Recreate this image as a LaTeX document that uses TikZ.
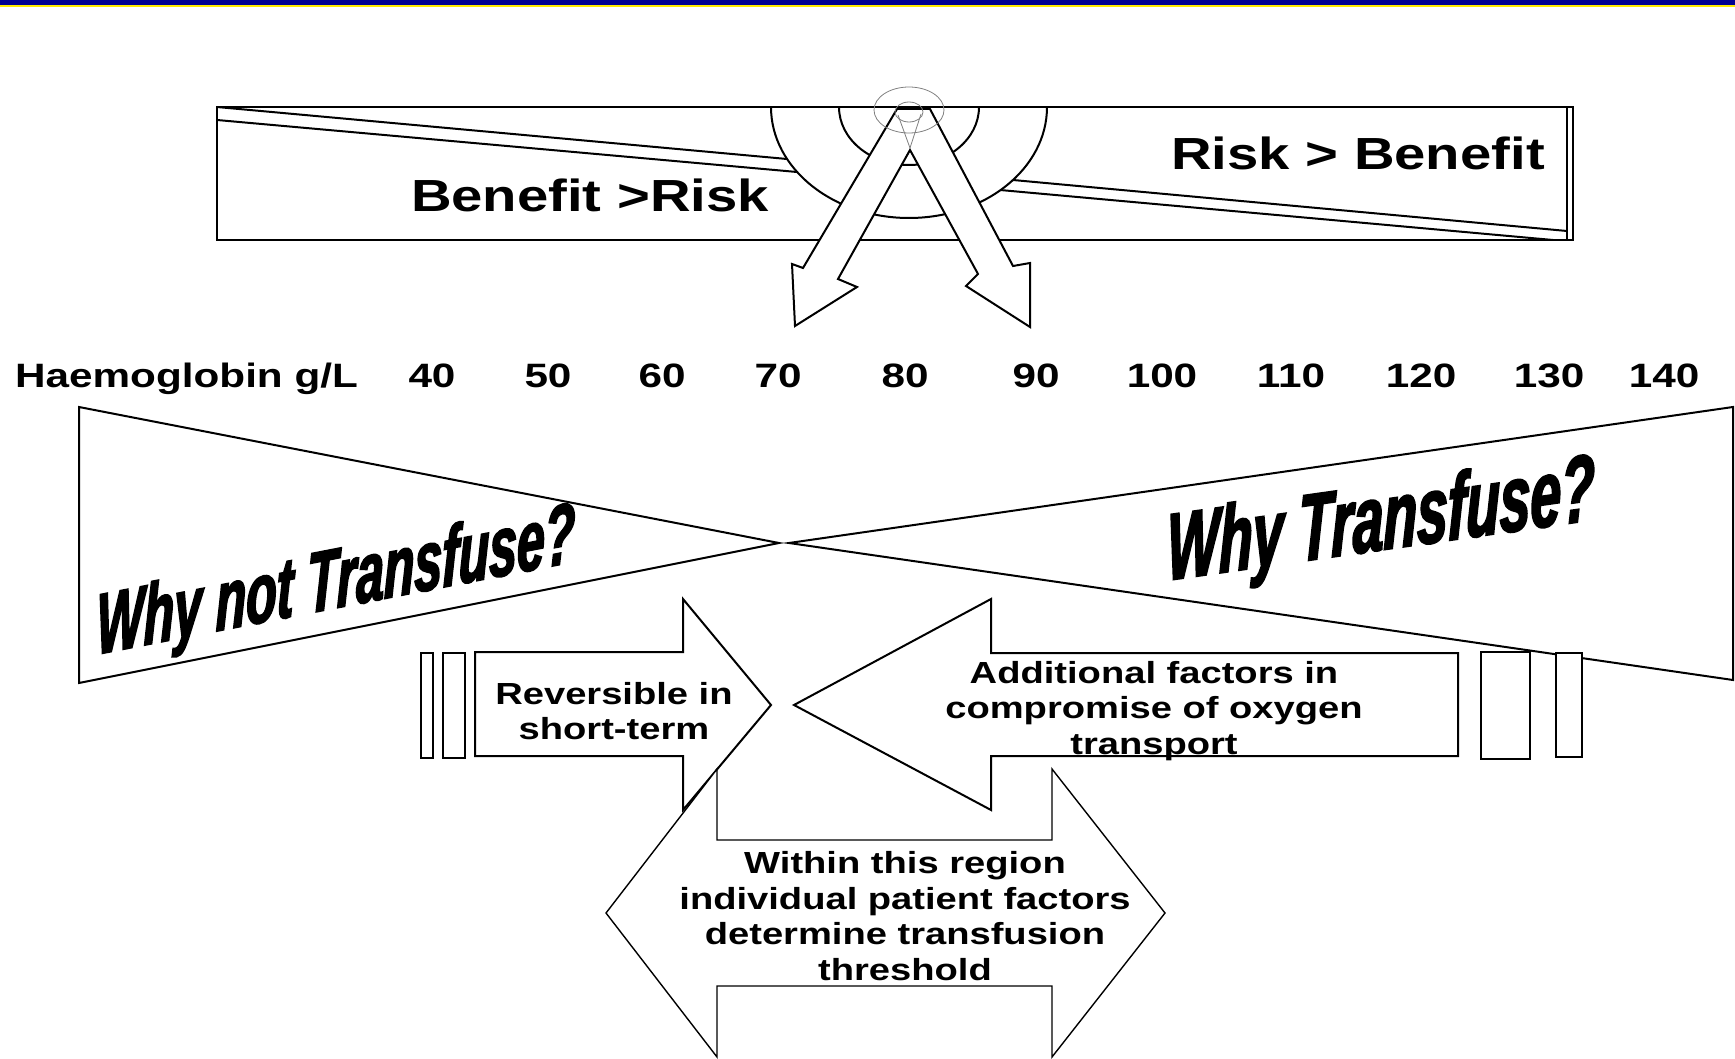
\documentclass[tikz,border=0pt]{standalone}
\usepackage{fontspec}
\newfontfamily\widefont[FakeStretch=1.25, Ligatures=NoCommon]{Liberation Sans}
\newfontfamily\narrowfont[FakeStretch=0.58, FakeBold=2]{Liberation Sans}
\usepackage{tikz}
\usetikzlibrary{positioning, calc}
\definecolor{barblue}{RGB}{0,0,145}
\definecolor{baryellow}{RGB}{255,235,0}

\begin{document}
\begin{tikzpicture}[x=1pt, y=-1pt]
\tikzstyle{outline}=[draw=black, line width=2pt, line join=miter]
\tikzstyle{blockarrow}=[draw=black, line width=2pt, fill=white, line join=miter]
\tikzstyle{thinring}=[draw=gray, line width=0.8pt]
\tikzstyle{endbar}=[draw=black, line width=1.6pt, fill=white]
\tikzstyle{scalelabel}=[font=\widefont\bfseries\fontsize{33.8}{40}\selectfont, anchor=base, inner sep=0pt]
\tikzstyle{balancelabel}=[font=\widefont\bfseries\fontsize{45}{54}\selectfont, anchor=base, inner sep=0pt]
\tikzstyle{arrowtext}=[font=\widefont\bfseries\fontsize{30.5}{35.4}\selectfont, align=center, inner sep=0pt]
\tikzstyle{question}=[anchor=base, inner sep=0pt, transform shape]

\useasboundingbox (0,0) rectangle (1735,1059);

% title rule
\fill[barblue] (0,0) rectangle (1735,5);
\fill[baryellow] (0,5) rectangle (1735,7);

% balance beam
\draw[outline, line width=2.5pt] (217,107) rectangle (1573,240);
\draw[outline] (1567,107) -- (1567,240);
\draw[outline] (217,107) -- (787,159);
\draw[outline] (1013,180) -- (1567,231);
\draw[outline] (217,120) -- (797,172);
\draw[outline] (1000,190) -- (1553,240);
\begin{scope}
  \clip (217,107) rectangle (1573,240);
  \draw[outline] (909,107) ellipse [x radius=138, y radius=111];
  \draw[outline] (909,107) ellipse [x radius=70, y radius=58];
\end{scope}

% pivot legs
\draw[blockarrow] (897,109) -- (803,268) -- (792,264) -- (795,326) -- (857,287)
  -- (838,279) -- (910,150) -- (978,274) -- (966,286) -- (1030,327)
  -- (1030,263) -- (1013,266) -- (930,109) -- cycle;
\draw[thinring] (909,110) ellipse [x radius=35, y radius=23];
\draw[thinring] (909,112) ellipse [x radius=14, y radius=10];
\draw[thinring] (898,115) -- (910,148) -- (921,114);

\node (benefit) [balancelabel] at (590,212) {Benefit >Risk};
\node (risk) [balancelabel] at (1358,170) {Risk > Benefit};

% haemoglobin scale
\node (hb) [scalelabel, anchor=base west] at (15,387) {Haemoglobin g/L};
\foreach \val/\xpos in {40/432, 50/548, 60/662, 70/778, 80/905, 90/1036,
    100/1162, 110/1291, 120/1421, 130/1549, 140/1664}
  \node (hb\val) [scalelabel] at (\xpos,387) {\val};

% bow tie
\draw[outline] (79,407) -- (779,543) -- (79,683) -- cycle;
\draw[outline] (1733,407) -- (789,543) -- (1733,680) -- cycle;

\node (whynot) [question, yslant=0.194,
  font=\narrowfont\bfseries\itshape\fontsize{86}{90}\selectfont] at (336,608) {Why not Transfuse?};
\node (why) [question, yslant=0.142,
  font=\narrowfont\bfseries\itshape\fontsize{95}{98}\selectfont] at (1381,550) {Why Transfuse?};

% end bars
\draw[endbar, line width=2.5pt] (421,653) rectangle (433,758);
\draw[endbar] (443,653) rectangle (465,758);
\draw[endbar, line width=2.5pt] (1481,652) rectangle (1530,759);
\draw[endbar] (1556,653) rectangle (1582,757);

% block arrows
\draw[blockarrow] (475,652) -- (683,652) -- (683,599) -- (771,705) -- (683,810)
  -- (683,756) -- (475,756) -- cycle;
\draw[blockarrow] (794,705) -- (991,599) -- (991,653) -- (1458,653) -- (1458,756)
  -- (991,756) -- (991,810) -- cycle;
\draw[blockarrow, line width=1.4pt] (606,913) -- (717,769) -- (717,840) -- (1052,840)
  -- (1052,769) -- (1165,913) -- (1052,1057) -- (1052,986) -- (717,986)
  -- (717,1057) -- cycle;

\node (reversible) [arrowtext] at (614,711) {Reversible in\\short-term};
\node (additional) [arrowtext] at (1154,711) {Additional factors in\\compromise of oxygen\\transport};
\node (region) [arrowtext] at (905,916) {Within this region\\individual patient factors\\determine transfusion\\threshold};

\end{tikzpicture}
\end{document}
